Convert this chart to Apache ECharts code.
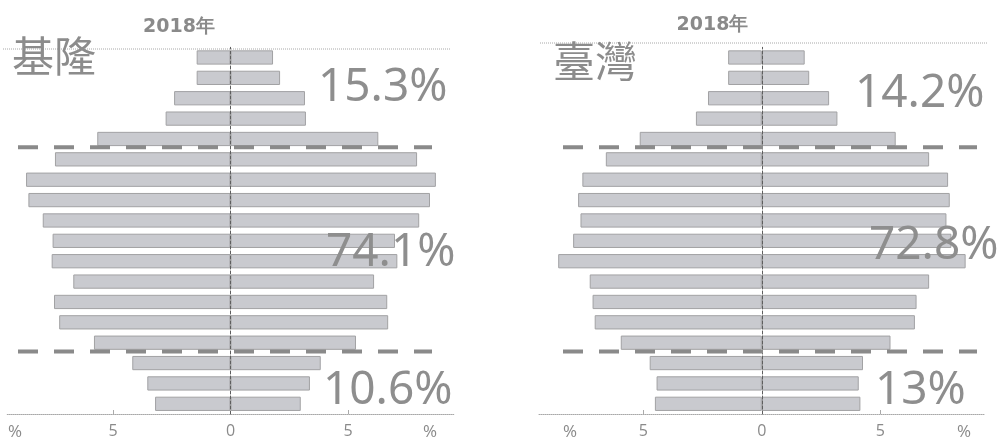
<!DOCTYPE html>
<html>
<head>
<meta charset="utf-8">
<script src="https://cdn.jsdelivr.net/npm/echarts@6/dist/echarts.min.js"></script>
<style>html,body{margin:0;padding:0;background:#fff;}#c{width:998px;height:439px;}</style>
</head>
<body>
<div id="c"></div>
<script>
// Age groups, bottom (youngest) to top (oldest)
const ages = ['0-4','5-9','10-14','15-19','20-24','25-29','30-34','35-39','40-44','45-49','50-54','55-59','60-64','65-69','70-74','75-79','80-84','85+'];
// Keelung (left pyramid) — % of each sex
const keelungLeft  = [3.21,3.54,4.18,5.81,7.29,7.51,6.69,7.61,7.57,7.99,8.60,8.70,7.47,5.67,2.76,2.40,1.44,1.44];
const keelungRight = [2.99,3.38,3.84,5.34,6.71,6.67,6.11,7.10,7.00,8.03,8.49,8.74,7.94,6.29,3.21,3.17,2.11,1.81];
// Taiwan (right pyramid)
const taiwanLeft  = [4.51,4.44,4.73,5.95,7.05,7.14,7.26,8.59,7.96,7.65,7.75,7.57,6.58,5.15,2.78,2.27,1.42,1.42];
const taiwanRight = [4.16,4.09,4.27,5.43,6.46,6.53,7.06,8.60,8.00,7.79,7.93,7.86,7.06,5.65,3.19,2.84,2.00,1.81];
// Share labels: 65+, 15-64, 0-14
const keelungShares = ['15.3%','74.1%','10.6%'];
const taiwanShares  = ['14.2%','72.8%','13%'];
const regionNames = ['基隆','臺灣'];
const yearLabel = '2018年';
const tickLabels = [-5, 0, 5];

const chart = echarts.init(document.getElementById('c'));
const barStyle = {color:'#c9cacf', borderColor:'#a2a2a4', borderWidth:1};
const grids = [
  {left:7.25, width:446.5, top:47.3, height:367.4},
  {left:539, width:445.6, top:47.3, height:367.4}
];
const ranges = [9.5, 9.4];
function xAx(i){
  return {type:'value', gridIndex:i, min:-ranges[i], max:ranges[i],
    splitLine:{show:false},
    axisLine:{show:true, lineStyle:{color:'#a8a8a8', type:[1,1], width:1}},
    axisTick:{show:true, customValues:[-5,5], inside:true, length:4, lineStyle:{color:'#aaa'}},
    axisLabel:{customValues:tickLabels, formatter:v=>String(Math.abs(v)), color:'#8a8a8a', fontSize:16, margin:9, fontFamily:'Open Sans'}};
}
function yAx(i){
  return {type:'category', gridIndex:i, data:ages, z:5,
    axisLine:{show:true, onZero:true, lineStyle:{color:'#5e5e5e', type:[3,2], width:1}},
    axisTick:{show:false}, axisLabel:{show:false}, splitLine:{show:false}};
}
function ser(i, arr, neg){
  return {type:'bar', xAxisIndex:i, yAxisIndex:i, stack:'g'+i, barWidth:'70%',
    data: arr.map(v=> neg ? -v : v), itemStyle:barStyle, silent:true};
}
chart.setOption({
  animation:false,
  grid:grids,
  xAxis:[xAx(0), xAx(1)],
  yAxis:[yAx(0), yAx(1)],
  series:[ser(0,keelungLeft,true), ser(0,keelungRight,false), ser(1,taiwanLeft,true), ser(1,taiwanRight,false)]
});

// dashed boundaries between 10-14/15-19 and 60-64/65-69
function boundary(i, a, b){
  const ya = chart.convertToPixel({yAxisIndex:i}, ages[a]);
  const yb = chart.convertToPixel({yAxisIndex:i}, ages[b]);
  return (ya+yb)/2;
}
const dashStyle = {stroke:'#8a8a8a', lineWidth:4, lineDash:[20,16]};
const dashX = [[18,432],[563,977]];
const bigFont = {fontSize:46, fontFamily:'Noto Sans', fill:'#8e8e8e'};
const g = [];
[0,1].forEach(i=>{
  const yTop = boundary(i, 12, 13);
  const yBot = boundary(i, 2, 3) - 1.5;
  g.push({type:'line', z:10, shape:{x1:dashX[i][0], y1:yTop-2, x2:dashX[i][1], y2:yTop-2}, style:dashStyle});
  g.push({type:'line', z:10, shape:{x1:dashX[i][0], y1:yBot, x2:dashX[i][1], y2:yBot}, style:dashStyle});
});
// top dotted lines
g.push({type:'line', z:1, shape:{x1:3,y1:49,x2:450,y2:49}, style:{stroke:'#a8a8a8', lineWidth:1, lineDash:[1,1]}});
g.push({type:'line', z:1, shape:{x1:540,y1:43,x2:987,y2:43}, style:{stroke:'#a8a8a8', lineWidth:1, lineDash:[1,1]}});
// titles
g.push({type:'text', z:12, style:{text:yearLabel, x:179, y:27.5, align:'center', verticalAlign:'middle', fontSize:19, fontWeight:'bold', fontFamily:'DejaVu Sans', fill:'#8a8a8a'}});
g.push({type:'text', z:12, style:{text:yearLabel, x:712.5, y:25.5, align:'center', verticalAlign:'middle', fontSize:19, fontWeight:'bold', fontFamily:'DejaVu Sans', fill:'#8a8a8a'}});
g.push({type:'text', z:12, style:{text:regionNames[0], x:12, y:56, verticalAlign:'middle', fontSize:42, fontFamily:'Noto Sans CJK TC', fill:'#8c8c8c'}});
g.push({type:'text', z:12, style:{text:regionNames[1], x:553, y:61, verticalAlign:'middle', fontSize:42, fontFamily:'Noto Sans CJK TC', fill:'#8c8c8c'}});
// share labels
const sharePos = [
  [[318,88],[326,253],[323,391]],
  [[855,94],[869,246],[875,391]]
];
[keelungShares, taiwanShares].forEach((arr,i)=>{
  arr.forEach((t,j)=>{
    g.push({type:'text', z:12, style:Object.assign({text:t, x:sharePos[i][j][0], y:sharePos[i][j][1], verticalAlign:'middle'}, bigFont)});
  });
});
// % unit labels on the axes
[[15,432],[430,432],[570,432],[964,432]].forEach(p=>{
  g.push({type:'text', z:12, style:{text:'%', x:p[0], y:p[1], align:'center', verticalAlign:'middle', fontSize:17, fontFamily:'Open Sans', fill:'#8a8a8a'}});
});
chart.setOption({graphic:{elements:g}});
</script>
</body>
</html>
